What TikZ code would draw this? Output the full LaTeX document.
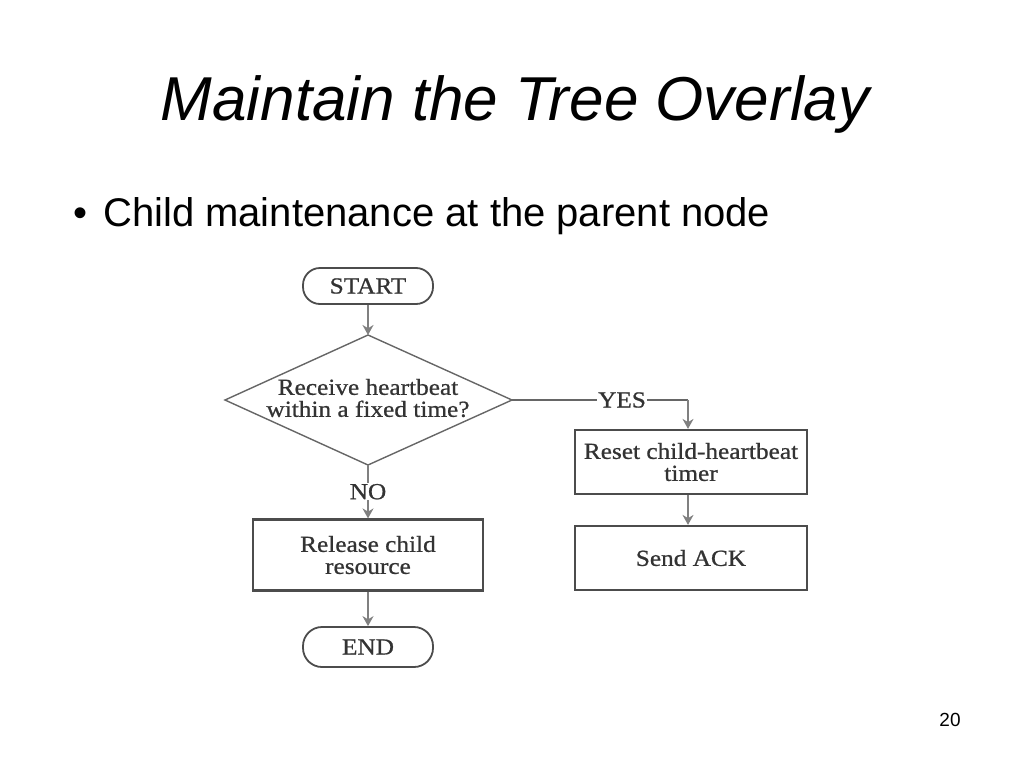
\documentclass[tikz,border=0pt]{standalone}
\usepackage{fontspec}
\setmainfont{Liberation Sans}
\newfontfamily\fcfont[FakeStretch=1.1,FakeBold=0.8]{Liberation Serif}
\usetikzlibrary{shapes.geometric,arrows.meta}
\begin{document}
\begin{tikzpicture}[x=1pt,y=-1pt,
  fctext/.style={font=\fcfont\fontsize{23}{25}\selectfont, text=black!80, align=center},
  term/.style={fctext, draw=black!70, line width=1.8pt, rounded corners=17pt, minimum width=130pt, minimum height=36pt, inner sep=0pt},
  procbox/.style={fctext, draw=black!70, line width=2.2pt, minimum width=232pt, minimum height=64pt, inner sep=0pt},
  decline/.style={draw=black!60, line width=1.4pt},
  conn/.style={draw=black!50, line width=2.8pt, -{Stealth[length=10pt,width=11pt]}},
  lbl/.style={fctext, fill=white, inner sep=1pt}]
\useasboundingbox (0,0) rectangle (1024,768);
\node[font=\itshape\fontsize{62}{70}\selectfont, anchor=base] (title) at (515,120) {Maintain the Tree Overlay};
\node[font=\fontsize{40}{44}\selectfont, anchor=base west, inner sep=0pt] (bul) at (73,226) {•};
\node[font=\fontsize{40}{44}\selectfont, anchor=base west, inner sep=0pt] (sub) at (103,226) {Child maintenance at the parent node};
\node[font=\fontsize{19}{21}\selectfont, anchor=base] (page) at (950,726) {20};

\node[term] (start) at (368,286) {START};
\coordinate (dt) at (368,335);
\coordinate (db) at (368,465);
\coordinate (dl) at (225,400);
\coordinate (dr) at (512,400);
\draw[decline] (dt) -- (dr) -- (db) -- (dl) -- cycle;
\node[fctext] (dec) at (368,398) {Receive heartbeat\\[-3pt]within a fixed time?};
\node[procbox] (reset) at (691,462) {Reset child-heartbeat\\[-3pt]timer};
\node[procbox] (ack) at (691,558) {Send ACK};
\node[procbox, minimum width=230pt, minimum height=71pt] (rel) at (368,555) {Release child\\[-3pt]resource};
\node[term, minimum height=40pt, rounded corners=19pt] (end) at (368,647) {END};
\coordinate (yc) at (688,400);

\draw[conn] (start) -- (dt);
\draw[decline] (dr) -- node[lbl, pos=0.625] (yes) {YES} (yc);
\draw[conn] (yc) -- (reset.north -| yc);
\draw[conn] (reset.south -| yc) -- (ack.north -| yc);
\draw[conn] (db) -- node[lbl, pos=0.5] (no) {NO} (rel.north);
\draw[conn] (rel) -- (end);
\end{tikzpicture}
\end{document}
